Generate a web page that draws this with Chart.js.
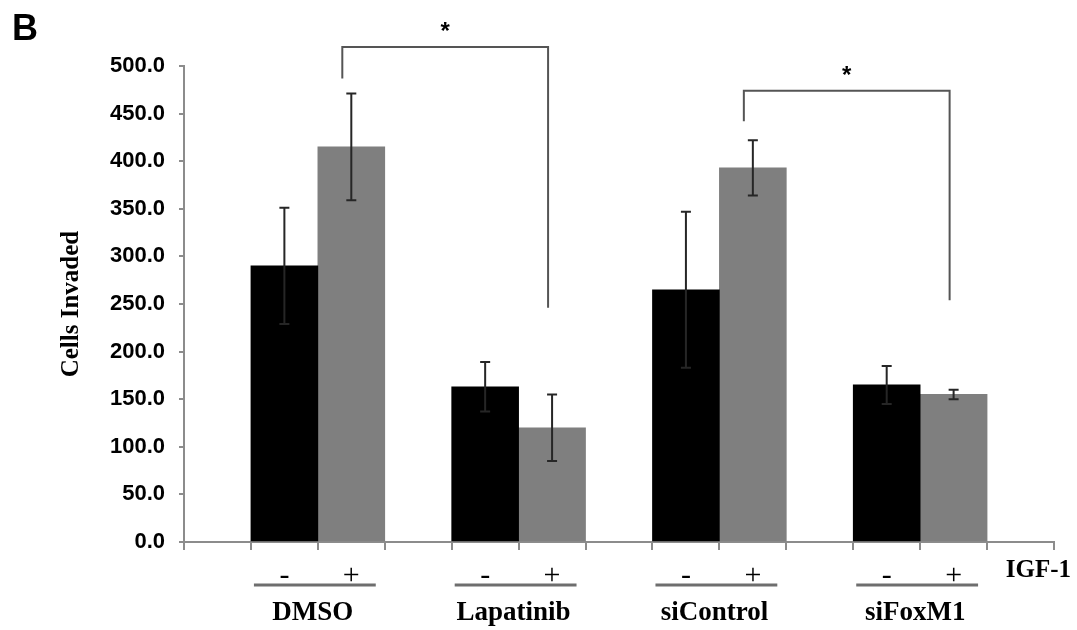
<!DOCTYPE html>
<html>
<head>
<meta charset="utf-8">
<script src="https://cdn.jsdelivr.net/npm/chart.js@4.4.1/dist/chart.umd.min.js"></script>
<style>
  html, body { margin: 0; padding: 0; background: #fff; }
  #wrap { width: 1077px; height: 630px; }
</style>
</head>
<body>
<div id="wrap"><canvas id="chart" width="1077" height="630"></canvas></div>
<script>
// values
var groups = ['DMSO', 'Lapatinib', 'siControl', 'siFoxM1'];
var igfMinus = [290, 163, 265, 165];
var igfPlus = [415, 120, 393, 155];
var errMinus = [61, 26, 82, 20];
var errPlus = [56, 35, 29, 5];
var yMin = 0, yMax = 500, yStep = 50;

// significance brackets, in data units (anchored on the "+" bars)
var brackets = [
    { from: 0, to: 1, top: 520, leftDrop: 487, rightDrop: 246 },
    { from: 2, to: 3, top: 474, leftDrop: 442, rightDrop: 254 }
];

// 13 slots: empty, -, +, empty, -, +, ... , empty
var slotCount = groups.length * 3 + 1;
var xLabels = [];
var minusData = [];
var plusData = [];
var minusErr = [];
var plusErr = [];
for (var i = 0; i < slotCount; i++) {
    xLabels.push('');
    minusData.push(null);
    plusData.push(null);
    minusErr.push(null);
    plusErr.push(null);
}
groups.forEach(function (g, gi) {
    var m = gi * 3 + 1, p = gi * 3 + 2;
    xLabels[m] = '-';
    xLabels[p] = '+';
    minusData[m] = igfMinus[gi];
    plusData[p] = igfPlus[gi];
    minusErr[m] = errMinus[gi];
    plusErr[p] = errPlus[gi];
});

var axisGray = '#8c8c8c';
var serif = "'Liberation Serif', 'Times New Roman', serif";
var sans = "'Liberation Sans', Arial, sans-serif";

var extras = {
    id: 'extras',
    afterDatasetsDraw: function (chart) {
        var ctx = chart.ctx;
        var y = chart.scales.y;
        var errs = [minusErr, plusErr];
        ctx.save();
        ctx.strokeStyle = '#262626';
        ctx.lineWidth = 2;
        chart.data.datasets.forEach(function (ds, di) {
            var meta = chart.getDatasetMeta(di);
            meta.data.forEach(function (bar, idx) {
                var v = ds.data[idx];
                var e = errs[di][idx];
                if (v === null || e === null) return;
                var yt = y.getPixelForValue(v + e);
                var yb = y.getPixelForValue(v - e);
                ctx.beginPath();
                ctx.moveTo(bar.x, yt); ctx.lineTo(bar.x, yb);
                ctx.moveTo(bar.x - 5, yt); ctx.lineTo(bar.x + 5, yt);
                ctx.moveTo(bar.x - 5, yb); ctx.lineTo(bar.x + 5, yb);
                ctx.stroke();
            });
        });
        ctx.restore();
    },
    afterDraw: function (chart) {
        var ctx = chart.ctx;
        var x = chart.scales.x;
        var y = chart.scales.y;
        ctx.save();

        // panel letter
        ctx.fillStyle = '#000';
        ctx.font = 'bold 36px ' + sans;
        ctx.textAlign = 'left';
        ctx.textBaseline = 'alphabetic';
        ctx.fillText('B', 12, 40);

        // brackets + stars
        ctx.strokeStyle = '#555';
        ctx.lineWidth = 2;
        brackets.forEach(function (b) {
            var x1 = x.getPixelForValue(b.from * 3 + 2) - 9;
            var x2 = x.getPixelForValue(b.to * 3 + 2) - 4;
            var yt = y.getPixelForValue(b.top);
            ctx.beginPath();
            ctx.moveTo(x1, y.getPixelForValue(b.leftDrop));
            ctx.lineTo(x1, yt);
            ctx.lineTo(x2, yt);
            ctx.lineTo(x2, y.getPixelForValue(b.rightDrop));
            ctx.stroke();
            ctx.font = 'bold 24px ' + sans;
            ctx.textAlign = 'center';
            ctx.fillText('*', (x1 + x2) / 2, yt - 8);
        });

        // group underlines and names
        var half = (x.getPixelForValue(1) - x.getPixelForValue(0)) / 2;
        groups.forEach(function (g, gi) {
            var left = x.getPixelForValue(gi * 3 + 1) - half;
            var right = x.getPixelForValue(gi * 3 + 2) + half;
            ctx.strokeStyle = '#6e6e6e';
            ctx.lineWidth = 3;
            ctx.beginPath();
            ctx.moveTo(left + 3, 585);
            ctx.lineTo(right - 9, 585);
            ctx.stroke();
            ctx.font = 'bold 27px ' + serif;
            ctx.textAlign = 'center';
            ctx.fillStyle = '#000';
            ctx.fillText(g, (left + right) / 2 - 5, 620);
        });

        ctx.font = 'bold 25px ' + serif;
        ctx.textAlign = 'right';
        ctx.fillText('IGF-1', 1071, 577);
        ctx.restore();
    }
};

new Chart(document.getElementById('chart'), {
    type: 'bar',
    data: {
        labels: xLabels,
        datasets: [
            { label: 'IGF-1 -', data: minusData, backgroundColor: '#000000', barPercentage: 1, categoryPercentage: 1, grouped: false },
            { label: 'IGF-1 +', data: plusData, backgroundColor: '#7f7f7f', barPercentage: 1, categoryPercentage: 1, grouped: false }
        ]
    },
    options: {
        responsive: false,
        animation: false,
        devicePixelRatio: 1,
        layout: { padding: { top: 66, right: 23, left: 0, bottom: 0 } },
        plugins: { legend: { display: false }, tooltip: { enabled: false } },
        scales: {
            x: {
                offset: true,
                grid: { offset: true, drawOnChartArea: false, tickLength: 8, color: axisGray, lineWidth: 2 },
                border: { color: axisGray, width: 2 },
                ticks: { color: '#000', font: { family: serif, size: 30 }, padding: 8, maxRotation: 0, autoSkip: false },
                afterFit: function (s) { s.height = 88; }
            },
            y: {
                min: yMin,
                max: yMax,
                ticks: {
                    stepSize: yStep,
                    color: '#000',
                    font: { family: sans, weight: 'bold', size: 22 },
                    padding: 14,
                    callback: function (v) { return Number(v).toFixed(1); }
                },
                grid: { drawOnChartArea: false, tickLength: 5, color: axisGray, lineWidth: 2 },
                border: { color: axisGray, width: 2 },
                title: {
                    display: true,
                    text: 'Cells Invaded',
                    color: '#000',
                    font: { family: serif, weight: 'bold', size: 25 },
                    padding: { top: 57, bottom: 0 }
                },
                afterFit: function (s) { s.width = 184; }
            }
        }
    },
    plugins: [extras]
});
</script>
</body>
</html>
